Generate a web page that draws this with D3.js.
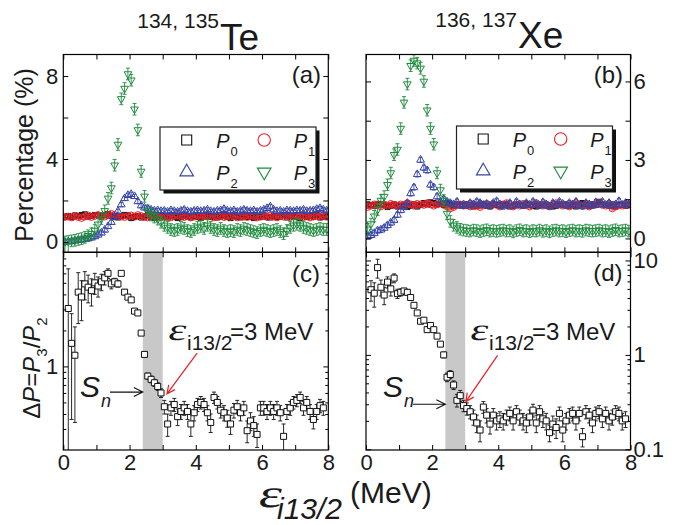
<!DOCTYPE html>
<html>
<head>
<meta charset="utf-8">
<script src="https://cdn.jsdelivr.net/npm/d3@7"></script>
<style>
    body { margin: 0; background: #fff; }
    svg { display: block; font-family: "Liberation Sans", Arial, sans-serif; }
</style>
</head>
<body>
<svg id="chart" width="676" height="525"></svg>
<script>

// bin centres (MeV)
var energy = [
    0.05, 0.15, 0.25, 0.35, 0.45, 0.55, 0.65, 0.75, 0.85, 0.95,
    1.05, 1.15, 1.25, 1.35, 1.45, 1.55, 1.65, 1.75, 1.85, 1.95,
    2.05, 2.15, 2.25, 2.35, 2.45, 2.55, 2.65, 2.75, 2.85, 2.95,
    3.05, 3.15, 3.25, 3.35, 3.45, 3.55, 3.65, 3.75, 3.85, 3.95,
    4.05, 4.15, 4.25, 4.35, 4.45, 4.55, 4.65, 4.75, 4.85, 4.95,
    5.05, 5.15, 5.25, 5.35, 5.45, 5.55, 5.65, 5.75, 5.85, 5.95,
    6.05, 6.15, 6.25, 6.35, 6.45, 6.55, 6.65, 6.75, 6.85, 6.95,
    7.05, 7.15, 7.25, 7.35, 7.45, 7.55, 7.65, 7.75, 7.85, 7.95];

// ---- 134,135Te percentages (%) ----
var teP0 = [
    1.22, 1.25, 1.20, 1.28, 1.24, 1.30, 1.33, 1.22, 1.25, 1.30,
    1.28, 1.22, 1.30, 1.35, 1.26, 1.20, 1.18, 1.25, 1.30, 1.28,
    1.15, 1.20, 1.25, 1.18, 1.22, 1.30, 1.20, 1.15, 1.22, 1.28,
    1.20, 1.18, 1.25, 1.22, 1.15, 1.20, 1.28, 1.22, 1.18, 1.25,
    1.20, 1.15, 1.22, 1.28, 1.20, 1.25, 1.18, 1.22, 1.30, 1.20,
    1.15, 1.25, 1.22, 1.18, 1.28, 1.20, 1.22, 1.15, 1.25, 1.20,
    1.28, 1.22, 1.18, 1.25, 1.20, 1.22, 1.30, 1.18, 1.25, 1.20,
    1.22, 1.15, 1.28, 1.20, 1.25, 1.22, 1.30, 1.18, 1.22, 1.20];
var teP1 = [
    1.20, 1.22, 1.18, 1.25, 1.20, 1.15, 1.22, 1.28, 1.20, 1.25,
    1.30, 1.25, 1.22, 1.28, 1.35, 1.30, 1.25, 1.22, 1.20, 1.25,
    1.28, 1.22, 1.30, 1.25, 1.20, 1.18, 1.25, 1.30, 1.22, 1.20,
    1.25, 1.22, 1.18, 1.28, 1.30, 1.22, 1.20, 1.25, 1.18, 1.22,
    1.28, 1.20, 1.25, 1.22, 1.30, 1.18, 1.22, 1.28, 1.20, 1.25,
    1.22, 1.30, 1.18, 1.25, 1.22, 1.20, 1.28, 1.25, 1.18, 1.22,
    1.25, 1.20, 1.28, 1.22, 1.18, 1.25, 1.22, 1.30, 1.20, 1.25,
    1.22, 1.28, 1.20, 1.25, 1.18, 1.22, 1.25, 1.20, 1.28, 1.22];
var teP2 = [
    0.00, 0.02, 0.04, 0.06, 0.08, 0.10, 0.13, 0.16, 0.20, 0.26,
    0.34, 0.44, 0.58, 0.75, 0.95, 1.20, 1.48, 1.80, 2.10, 2.25,
    2.30, 2.20, 1.95, 1.75, 1.65, 1.60, 1.55, 1.50, 1.52, 1.48,
    1.50, 1.45, 1.52, 1.48, 1.45, 1.50, 1.55, 1.48, 1.45, 1.50,
    1.52, 1.48, 1.50, 1.55, 1.48, 1.45, 1.50, 1.52, 1.58, 1.50,
    1.48, 1.52, 1.45, 1.50, 1.55, 1.50, 1.48, 1.52, 1.45, 1.50,
    1.55, 1.62, 1.70, 1.55, 1.48, 1.50, 1.45, 1.52, 1.50, 1.48,
    1.52, 1.50, 1.55, 1.48, 1.50, 1.52, 1.58, 1.62, 1.55, 1.50];
var teP3 = [
    0.00, 0.02, 0.05, 0.08, 0.12, 0.16, 0.22, 0.30, 0.40, 0.55,
    0.85, 1.13, 1.50, 2.10, 2.60, 3.70, 4.70, 6.90, 7.40, 8.10,
    7.80, 6.40, 5.40, 3.40, 2.20, 1.50, 1.30, 1.20, 1.10, 0.95,
    0.80, 0.70, 0.60, 0.55, 0.60, 0.70, 0.65, 0.55, 0.50, 0.60,
    0.70, 0.75, 0.65, 0.80, 0.70, 0.60, 0.55, 0.65, 0.55, 0.50,
    0.55, 0.50, 0.60, 0.55, 0.65, 0.60, 0.55, 0.50, 0.45, 0.55,
    0.60, 0.55, 0.50, 0.55, 0.60, 0.50, 0.40, 0.55, 0.70, 0.80,
    0.85, 0.80, 0.70, 0.65, 0.60, 0.55, 0.60, 0.65, 0.60, 0.60];

// ---- 136,137Xe percentages (%) ----
var xeP0 = [
    1.30, 1.28, 1.25, 1.32, 1.30, 1.28, 1.20, 1.25, 1.30, 1.22,
    1.25, 1.28, 1.20, 1.25, 1.30, 1.22, 1.28, 1.35, 1.30, 1.38,
    1.35, 1.30, 1.32, 1.28, 1.35, 1.30, 1.25, 1.30, 1.28, 1.25,
    1.30, 1.28, 1.22, 1.25, 1.30, 1.28, 1.25, 1.22, 1.30, 1.28,
    1.25, 1.30, 1.28, 1.22, 1.25, 1.30, 1.28, 1.25, 1.32, 1.28,
    1.25, 1.22, 1.28, 1.30, 1.25, 1.28, 1.22, 1.25, 1.30, 1.28,
    1.30, 1.25, 1.28, 1.22, 1.30, 1.35, 1.28, 1.25, 1.30, 1.28,
    1.40, 1.30, 1.28, 1.25, 1.30, 1.22, 1.28, 1.30, 1.25, 1.28];
var xeP1 = [
    1.20, 1.25, 1.30, 1.28, 1.22, 1.30, 1.25, 1.32, 1.28, 1.25,
    1.30, 1.28, 1.35, 1.30, 1.25, 1.32, 1.30, 1.28, 1.35, 1.30,
    1.25, 1.30, 1.35, 1.28, 1.22, 1.15, 1.20, 1.28, 1.30, 1.25,
    1.28, 1.22, 1.30, 1.25, 1.20, 1.28, 1.32, 1.25, 1.30, 1.28,
    1.22, 1.30, 1.35, 1.28, 1.22, 1.30, 1.25, 1.32, 1.28, 1.22,
    1.30, 1.35, 1.28, 1.25, 1.30, 1.22, 1.28, 1.35, 1.30, 1.25,
    1.28, 1.22, 1.30, 1.35, 1.28, 1.25, 1.30, 1.22, 1.28, 1.30,
    1.35, 1.28, 1.25, 1.30, 1.15, 1.22, 1.28, 1.25, 1.30, 1.28];
var xeP2 = [
    0.08, 0.12, 0.20, 0.30, 0.33, 0.40, 0.50, 0.60, 0.70, 0.90,
    1.08, 1.20, 1.35, 1.72, 1.95, 2.45, 3.00, 2.70, 2.60, 2.05,
    1.95, 1.60, 1.40, 1.50, 1.40, 1.35, 1.30, 1.40, 1.25, 1.30,
    1.25, 1.35, 1.30, 1.40, 1.35, 1.28, 1.32, 1.25, 1.35, 1.42,
    1.30, 1.22, 1.28, 1.35, 1.25, 1.40, 1.30, 1.25, 1.35, 1.28,
    1.40, 1.32, 1.25, 1.38, 1.30, 1.22, 1.35, 1.28, 1.40, 1.32,
    1.25, 1.35, 1.30, 1.40, 1.28, 1.22, 1.35, 1.30, 1.25, 1.38,
    1.30, 1.40, 1.28, 1.35, 1.25, 1.30, 1.42, 1.28, 1.35, 1.30];
var xeP3 = [
    0.35, 0.55, 0.85, 1.10, 1.45, 1.60, 2.05, 2.50, 3.20, 3.40,
    4.20, 5.20, 5.90, 6.60, 6.80, 6.70, 6.50, 6.00, 4.90, 4.20,
    3.60, 2.50, 1.85, 1.45, 0.95, 0.65, 0.50, 0.42, 0.35, 0.32,
    0.30, 0.28, 0.32, 0.30, 0.26, 0.30, 0.33, 0.28, 0.30, 0.27,
    0.30, 0.32, 0.28, 0.30, 0.25, 0.30, 0.33, 0.28, 0.30, 0.26,
    0.30, 0.28, 0.32, 0.27, 0.30, 0.25, 0.30, 0.32, 0.28, 0.30,
    0.26, 0.30, 0.32, 0.28, 0.30, 0.27, 0.32, 0.30, 0.28, 0.30,
    0.32, 0.28, 0.30, 0.26, 0.30, 0.33, 0.28, 0.30, 0.32, 0.28];

// error bar size of each P series (%)
var teErr = [0.06, 0.06, 0.10, 0.28];
var xeErr = [0.06, 0.06, 0.10, 0.22];

// ---- ratio dP = P3/P2, bins 0.15 ... 7.85 ----
var ratioEnergy = energy.slice(1, 79);
var teRatio = [
    3.05, 1.56, 1.24, 4.18, 3.81, 4.90, 4.60, 4.30, 5.00,
    4.70, 5.10, 5.50, 6.00, 4.90, 5.10, 4.90, 6.00, 4.18, 3.80,
    3.60, 2.90, 2.80, 1.90, 1.26, 0.83, 0.78, 0.73, 0.68, 0.60,
    0.46, 0.33, 0.45, 0.48, 0.38, 0.42, 0.45, 0.42, 0.33, 0.41,
    0.48, 0.50, 0.48, 0.41, 0.34, 0.55, 0.50, 0.43, 0.41, 0.37,
    0.33, 0.43, 0.46, 0.41, 0.45, 0.29, 0.35, 0.32, 0.27, 0.45,
    0.45, 0.42, 0.45, 0.42, 0.45, 0.41, 0.26, 0.42, 0.45, 0.50,
    0.52, 0.55, 0.45, 0.50, 0.42, 0.36, 0.42, 0.47, 0.45];
var teRatioErr = [
    3.50, 1.20, 0.90, 1.90, 1.40, 1.30, 1.20, 1.10, 1.00,
    0.90, 0.80, 0.70, 0.55, 0.45, 0.35, 0.30, 0.25, 0.20, 0.15,
    0.12, 0.10, 0.08, 0.07, 0.06, 0.05, 0.05, 0.05, 0.05, 0.05,
    0.06, 0.07, 0.06, 0.06, 0.06, 0.06, 0.06, 0.06, 0.07, 0.06,
    0.06, 0.06, 0.06, 0.06, 0.06, 0.06, 0.06, 0.06, 0.06, 0.06,
    0.06, 0.06, 0.06, 0.06, 0.06, 0.06, 0.06, 0.06, 0.06, 0.06,
    0.06, 0.06, 0.06, 0.06, 0.06, 0.06, 0.07, 0.06, 0.06, 0.06,
    0.06, 0.06, 0.06, 0.06, 0.06, 0.06, 0.06, 0.06, 0.06];
var xeRatio = [
    4.90, 4.50, 8.40, 5.20, 4.30, 5.90, 5.00, 6.50, 4.45,
    4.60, 4.75, 4.60, 4.05, 3.35, 2.78, 2.27, 2.33, 1.85, 2.05,
    1.85, 1.58, 1.30, 1.00, 0.58, 0.62, 0.48, 0.33, 0.37, 0.29,
    0.27, 0.25, 0.22, 0.19, 0.16, 0.28, 0.23, 0.185, 0.23, 0.20,
    0.21, 0.20, 0.22, 0.24, 0.20, 0.25, 0.22, 0.20, 0.19, 0.22,
    0.26, 0.19, 0.25, 0.21, 0.20, 0.15, 0.185, 0.17, 0.24, 0.16,
    0.20, 0.23, 0.24, 0.20, 0.24, 0.136, 0.25, 0.23, 0.19, 0.24,
    0.25, 0.21, 0.24, 0.20, 0.22, 0.25, 0.24, 0.20, 0.21];
var xeRatioErr = [
    1.20, 1.30, 1.90, 1.00, 0.90, 0.80, 0.80, 0.70, 0.50,
    0.40, 0.30, 0.30, 0.25, 0.20, 0.15, 0.12, 0.12, 0.10, 0.10,
    0.08, 0.08, 0.07, 0.07, 0.06, 0.06, 0.05, 0.05, 0.05, 0.04,
    0.04, 0.04, 0.04, 0.04, 0.04, 0.04, 0.04, 0.04, 0.04, 0.04,
    0.04, 0.04, 0.04, 0.04, 0.04, 0.04, 0.04, 0.04, 0.04, 0.04,
    0.04, 0.04, 0.04, 0.04, 0.04, 0.03, 0.04, 0.04, 0.04, 0.04,
    0.04, 0.04, 0.04, 0.04, 0.04, 0.03, 0.04, 0.04, 0.04, 0.04,
    0.04, 0.04, 0.04, 0.04, 0.04, 0.04, 0.04, 0.04, 0.04];

// shaded region (MeV) around Sn
var snBand = [2.4, 3.0];

var colors = ["#111111", "#ee1d25", "#3545a6", "#1e8b3c"];
var symbols = [d3.symbolSquare, d3.symbolCircle, d3.symbolTriangle, d3.symbolTriangle];
var symbolSize = [26, 36, 26, 26];
var legendSize = [100, 120, 80, 80];

var svg = d3.select("#chart");
var defs = svg.append("defs");

var xLeft = d3.scaleLinear().domain([0, 8]).range([63.3, 328.3]);
var xRight = d3.scaleLinear().domain([0, 8]).range([366, 630.5]);
var yTe = d3.scaleLinear().domain([-0.5, 9.04]).range([252.3, 54.5]);
var yXe = d3.scaleLinear().domain([-0.53, 7.03]).range([252.3, 54.5]);
var yTeRatio = d3.scaleLog().domain([0.2, 9]).range([450, 252.3]);
var yXeRatio = d3.scaleLog().domain([0.0983, 12.2]).range([450, 252.3]);

var clipCount = 0;
function panelGroup(x, y) {
    var id = "clip" + (clipCount++);
    defs.append("clipPath").attr("id", id)
        .append("rect")
        .attr("x", x.range()[0]).attr("y", y.range()[1])
        .attr("width", x.range()[1] - x.range()[0])
        .attr("height", y.range()[0] - y.range()[1]);
    return svg.append("g").attr("clip-path", "url(#" + id + ")");
}

function styleAxis(g) {
    g.select(".domain").remove();
    g.attr("font-family", null).attr("font-size", 22);
    g.selectAll("line").attr("stroke", "#000");
    g.selectAll("text").attr("fill", "#1a1a1a");
}

// frame + inward ticks on all four sides
function drawFrame(x, y, yTicks, yMinor, yLabels, labelSide, xLabels) {
    var x0 = x.range()[0], x1 = x.range()[1];
    var yb = y.range()[0], yt = y.range()[1];
    var xt = [0, 1, 2, 3, 4, 5, 6, 7, 8];

    svg.append("g").attr("transform", "translate(0," + yt + ")")
        .call(d3.axisTop(x).tickValues(xt).tickSize(-5).tickFormat(""))
        .call(styleAxis);
    svg.append("g").attr("transform", "translate(0," + yb + ")")
        .call(d3.axisBottom(x).tickValues(xt).tickSize(-5).tickPadding(4.5)
            .tickFormat(function (d) { return xLabels && d % 2 === 0 ? d : ""; }))
        .call(styleAxis);

    var fmt = function (d) { return yLabels.indexOf(d) >= 0 ? d : ""; };
    var left = d3.axisLeft(y).tickValues(yTicks).tickSize(-5).tickPadding(5)
        .tickFormat(labelSide === "left" ? fmt : "");
    var right = d3.axisRight(y).tickValues(yTicks).tickSize(-5).tickPadding(3)
        .tickFormat(labelSide === "right" ? fmt : "");
    svg.append("g").attr("transform", "translate(" + x0 + ",0)").call(left).call(styleAxis);
    svg.append("g").attr("transform", "translate(" + x1 + ",0)").call(right).call(styleAxis);
    if (yMinor) {
        svg.append("g").attr("transform", "translate(" + x0 + ",0)")
            .call(d3.axisLeft(y).tickValues(yMinor).tickSize(-3).tickFormat("")).call(styleAxis);
        svg.append("g").attr("transform", "translate(" + x1 + ",0)")
            .call(d3.axisRight(y).tickValues(yMinor).tickSize(-3).tickFormat("")).call(styleAxis);
    }

    svg.append("rect")
        .attr("x", x0).attr("y", yt)
        .attr("width", x1 - x0).attr("height", yb - yt)
        .attr("fill", "none").attr("stroke", "#000").attr("stroke-width", 1.2);
}

// error bars + hollow markers
function drawSeries(g, x, y, xs, vals, errs, k, size) {
    var pts = xs.map(function (e, i) {
        return { e: e, v: vals[i], err: Array.isArray(errs) ? errs[i] : errs };
    });
    var floor = y.domain()[0];
    g.append("g").selectAll("path")
        .data(pts).enter().append("path")
        .attr("d", function (d) {
            var xp = x(d.e);
            var top = y(d.v + d.err);
            var lo = d.v - d.err;
            var bot = lo > floor * 0.5 ? y(lo) : y.range()[0] + 5;
            return "M" + (xp - 2) + "," + top + "H" + (xp + 2) +
                "M" + xp + "," + top + "V" + bot +
                "M" + (xp - 2) + "," + bot + "H" + (xp + 2);
        })
        .attr("stroke", colors[k]).attr("stroke-width", 0.9).attr("fill", "none");

    g.append("g").selectAll("path")
        .data(pts).enter().append("path")
        .attr("transform", function (d) {
            return "translate(" + x(d.e) + "," + y(d.v) + ")" + (k === 3 ? " rotate(180)" : "");
        })
        .attr("d", d3.symbol().type(symbols[k]).size(size || symbolSize[k]))
        .attr("fill", size ? "#fff" : "none")
        .attr("stroke", colors[k]).attr("stroke-width", 1);
}

function drawLegend(bx, by) {
    var w = 156, h = 63;
    svg.append("rect").attr("x", bx + 3.5).attr("y", by + 3.5)
        .attr("width", w).attr("height", h).attr("fill", "#111");
    svg.append("rect").attr("x", bx).attr("y", by)
        .attr("width", w).attr("height", h)
        .attr("fill", "#fff").attr("stroke", "#222").attr("stroke-width", 1.2);
    var cells = [
        { k: 0, col: 0, row: 0 }, { k: 1, col: 1, row: 0 },
        { k: 2, col: 0, row: 1 }, { k: 3, col: 1, row: 1 }];
    cells.forEach(function (c) {
        var mx = bx + 26.7 + c.col * 77.5;
        var my = by + 13 + c.row * 32;
        svg.append("path")
            .attr("transform", "translate(" + mx + "," + my + ")" + (c.k === 3 ? " rotate(180)" : ""))
            .attr("d", d3.symbol().type(symbols[c.k]).size(legendSize[c.k]))
            .attr("fill", "none").attr("stroke", colors[c.k]).attr("stroke-width", 1.1);
        var t = svg.append("text")
            .attr("x", mx + 29.5).attr("y", by + 21 + c.row * 31.5)
            .attr("font-size", 20).attr("fill", "#1a1a1a");
        t.append("tspan").attr("font-style", "italic").text("P");
        t.append("tspan").attr("font-size", 13).attr("dx", 1).attr("dy", 8).text(c.k);
    });
}

function drawRatioAnnotations(x, y, snX, snY, redFrom, redTo, textX) {
    // Sn label + arrow to the shaded band
    var s = svg.append("text").attr("x", snX).attr("y", 397)
        .attr("font-size", 30).attr("font-style", "italic").attr("fill", "#1a1a1a");
    s.append("tspan").text("S");
    s.append("tspan").attr("font-size", 18).attr("dy", 10).attr("dx", 1).text("n");
    var tipX = x(snBand[0]), tipY = y(snY);
    svg.append("path")
        .attr("d", "M" + (snX + 30) + "," + tipY + "H" + tipX +
            "M" + (tipX - 9) + "," + (tipY - 4.5) + "L" + tipX + "," + tipY + "L" + (tipX - 9) + "," + (tipY + 4.5))
        .attr("fill", "none").attr("stroke", "#111").attr("stroke-width", 1.1);

    // red arrow from the 3 MeV label
    var ax0 = x(redFrom[0]), ay0 = y(redFrom[1]);
    var ax1 = x(redTo[0]), ay1 = y(redTo[1]);
    var ang = Math.atan2(ay1 - ay0, ax1 - ax0);
    var hl = 9, hw = 0.45;
    svg.append("path")
        .attr("d", "M" + ax0 + "," + ay0 + "L" + ax1 + "," + ay1 +
            "M" + (ax1 - hl * Math.cos(ang - hw)) + "," + (ay1 - hl * Math.sin(ang - hw)) +
            "L" + ax1 + "," + ay1 +
            "L" + (ax1 - hl * Math.cos(ang + hw)) + "," + (ay1 - hl * Math.sin(ang + hw)))
        .attr("fill", "none").attr("stroke", "#ee1d25").attr("stroke-width", 1.2);

    svg.append("text")
        .attr("transform", "translate(" + textX + ",340) scale(1.4,1) skewX(-8)")
        .attr("font-family", "'Liberation Serif', serif")
        .attr("font-size", 31).attr("fill", "#1a1a1a").text("ε");
    svg.append("text").attr("x", textX + 20).attr("y", 350)
        .attr("font-size", 21).attr("fill", "#1a1a1a").text("i13/2");
    svg.append("text").attr("x", textX + 63).attr("y", 340)
        .attr("font-size", 24).attr("fill", "#1a1a1a").text("=3 MeV");
}

// ---------- shaded Sn bands (bottom panels only) ----------
[[xLeft, yTeRatio], [xRight, yXeRatio]].forEach(function (p) {
    svg.append("rect")
        .attr("x", p[0](snBand[0])).attr("y", p[1].range()[1])
        .attr("width", p[0](snBand[1]) - p[0](snBand[0]))
        .attr("height", p[1].range()[0] - p[1].range()[1])
        .attr("fill", "#c8c8c8");
});

// ---------- data ----------
var gA = panelGroup(xLeft, yTe);
[teP0, teP1, teP2, teP3].forEach(function (s, k) {
    drawSeries(gA, xLeft, yTe, energy, s, teErr[k], k);
});
var gB = panelGroup(xRight, yXe);
[xeP0, xeP1, xeP2, xeP3].forEach(function (s, k) {
    drawSeries(gB, xRight, yXe, energy, s, xeErr[k], k);
});
var gC = panelGroup(xLeft, yTeRatio);
drawSeries(gC, xLeft, yTeRatio, ratioEnergy, teRatio, teRatioErr, 0, 36);
var gD = panelGroup(xRight, yXeRatio);
drawSeries(gD, xRight, yXeRatio, ratioEnergy, xeRatio, xeRatioErr, 0, 36);

// ---------- frames and axes ----------
drawFrame(xLeft, yTe, [0, 2, 4, 6, 8], null, [0, 4, 8], "left", false);
drawFrame(xRight, yXe, [0, 1.5, 3, 4.5, 6], null, [0, 3, 6], "right", false);
drawFrame(xLeft, yTeRatio, [1], [0.3, 0.4, 0.5, 0.6, 0.7, 0.8, 0.9, 2, 3, 4, 5, 6, 7, 8], [1], "left", true);
drawFrame(xRight, yXeRatio, [0.1, 1, 10],
    [0.2, 0.3, 0.4, 0.5, 0.6, 0.7, 0.8, 0.9, 2, 3, 4, 5, 6, 7, 8, 9], [0.1, 1, 10], "right", true);

drawLegend(160, 127);
drawLegend(456.5, 126);

// panel letters
[["(a)", 321, 83], ["(b)", 623, 83], ["(c)", 320, 282], ["(d)", 622.5, 281]].forEach(function (p) {
    svg.append("text").attr("x", p[1]).attr("y", p[2])
        .attr("text-anchor", "end").attr("font-size", 24).attr("fill", "#1a1a1a").text(p[0]);
});

// nucleus titles
function title(sup, el, x, ySup, yEl) {
    svg.append("text").attr("x", x - 1).attr("y", ySup).attr("text-anchor", "end")
        .attr("font-size", 21).attr("fill", "#1a1a1a").text(sup);
    svg.append("text").attr("x", x).attr("y", yEl)
        .attr("font-size", 37).attr("fill", "#1a1a1a").text(el);
}
title("134, 135", "Te", 220, 28, 50);
title("136, 137", "Xe", 518, 27, 48);

// y titles
svg.append("text")
    .attr("transform", "translate(33,155) rotate(-90)")
    .attr("text-anchor", "middle").attr("font-size", 25).attr("fill", "#1a1a1a")
    .text("Percentage (%)");

var dp = svg.append("text")
    .attr("transform", "translate(40,368) rotate(-90)")
    .attr("text-anchor", "middle").attr("font-size", 24).attr("fill", "#1a1a1a");
dp.append("tspan").text("Δ");
dp.append("tspan").attr("font-style", "italic").text("P");
dp.append("tspan").text("=");
dp.append("tspan").attr("font-style", "italic").text("P");
dp.append("tspan").attr("font-size", 15).attr("dy", 7).text("3");
dp.append("tspan").attr("dy", -7).text("/");
dp.append("tspan").attr("font-style", "italic").text("P");
dp.append("tspan").attr("font-size", 15).attr("dy", 7).text("2");

// x title
svg.append("text")
    .attr("transform", "translate(257,507) scale(1.4,1) skewX(-8)")
    .attr("font-family", "'Liberation Serif', serif")
    .attr("font-size", 40).attr("fill", "#1a1a1a").text("ε");
svg.append("text").attr("x", 277).attr("y", 519)
    .attr("font-size", 30).attr("font-style", "italic").attr("fill", "#1a1a1a").text("i13/2");
svg.append("text").attr("x", 350).attr("y", 503)
    .attr("font-size", 30).attr("fill", "#1a1a1a").text("(MeV)");

// annotations in the ratio panels
drawRatioAnnotations(xLeft, yTeRatio, 80, 0.61, [4.04, 1.29], [3.13, 0.59], 167);
drawRatioAnnotations(xRight, yXeRatio, 383, 0.30, [3.98, 0.99], [3.02, 0.32], 469);

</script>
</body>
</html>
